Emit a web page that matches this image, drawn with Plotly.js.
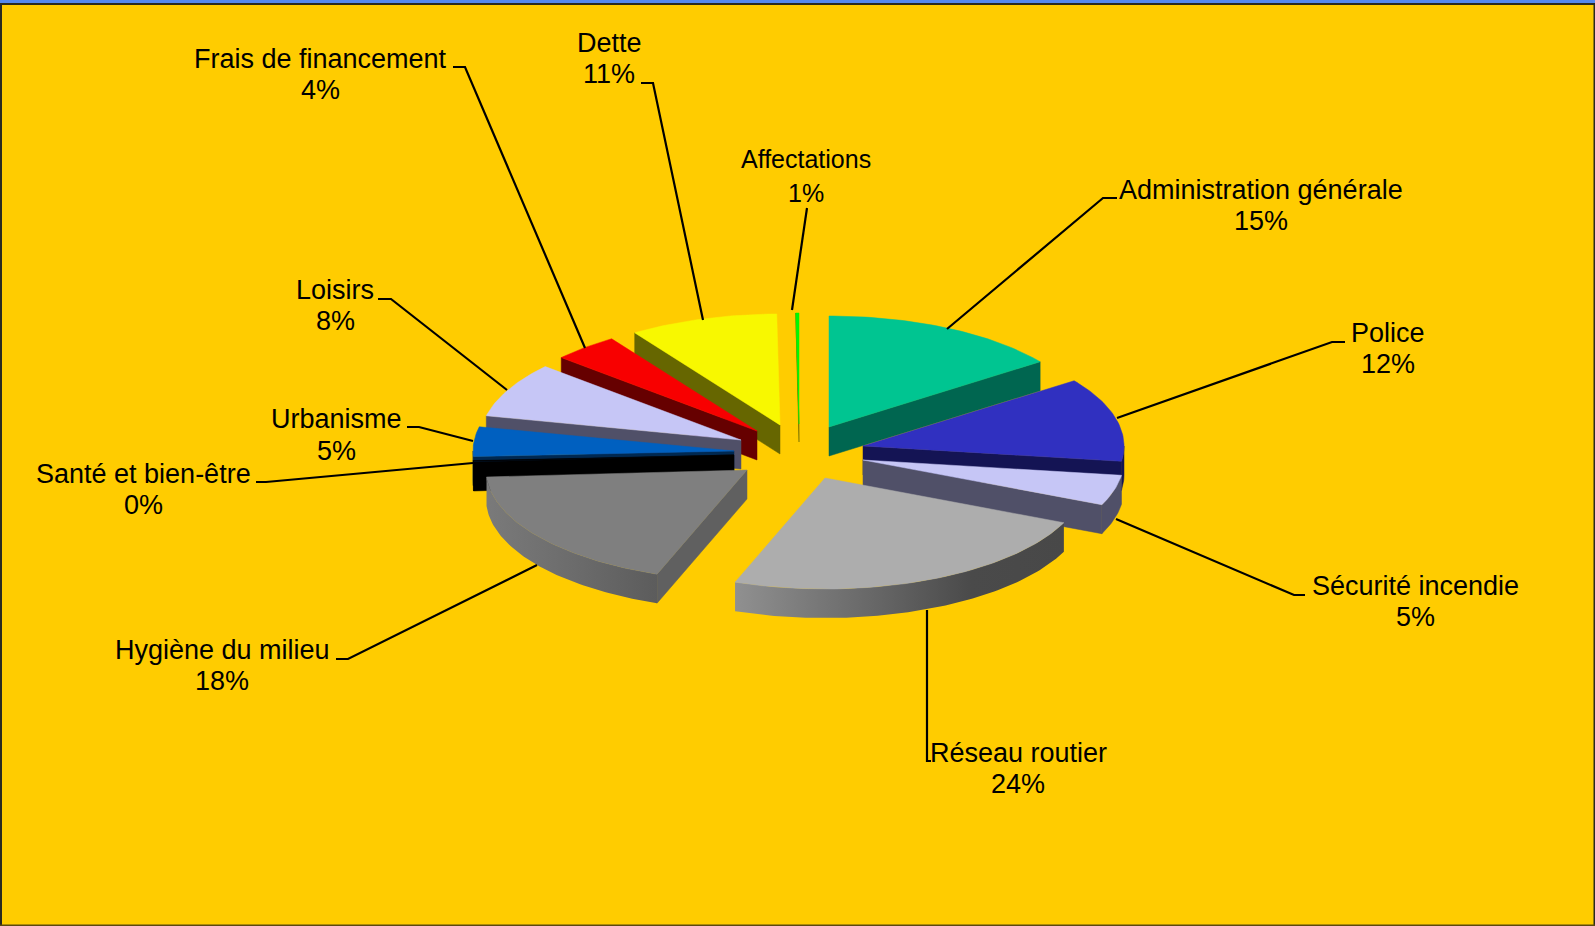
<!DOCTYPE html>
<html>
<head>
<meta charset="utf-8">
<script src="https://cdn.plot.ly/plotly-3.0.1.min.js"></script>
<style>html,body{margin:0;padding:0;background:#FFCC00;overflow:hidden}</style>
</head>
<body>
<div id="chart" style="width:1595px;height:926px"></div>
<script>
// ---- data ----
const categories = ["Administration générale","Police","Sécurité incendie","Réseau routier","Hygiène du milieu","Santé et bien-être","Urbanisme","Loisirs","Frais de financement","Dette","Affectations"];
const printedPercent = ["15%","12%","5%","24%","18%","0%","5%","8%","4%","11%","1%"];
const sliceShares = [15,12.2,4.4,24,18.4,0.2,4.3,8,4.1,9.2,0.2];

// ---- styles ----
const topColors  = ["#00C591","#3030C0","#C6C6F6","#ADADAD","#7F7F7F","#000000","#0060C0","#C6C6F6","#F80000","#F8F800","#00F800"];
const sideColors = ["#006650","#141454","#505068","#484848","#606060","#000000","#002850","#505068","#660000","#666600","#666600"];

// ---- layout geometry (the exploded position of each slice) ----
const apexX = [829,863,863,825,747,734,734,741,757,780,799];
const apexY = [427,446,460,478,470,455,451,440,431,425,424];
const radiusX = 261, radiusY = 111;
const sliceDepth = [29,29,29,29,29,29,29,29,29,29,18];
const paintOrder = [10,0,9,8,7,6,5,4,1,2,3];
const arcGradients = {
  3: [[0,"#909090"],[0.72,"#4A4A4A"],[1,"#484848"]],
  4: [[0,"#7A7A7A"],[0.5,"#6C6C6C"],[1,"#5C5C5C"]]
};
const labelX = [1261,1388,1415,1018,222,143,336,335,320,609,806];
const nameY  = [190,333,586,753,650,474,419,290,59,43,159];
const pctY   = [221,364,617,784,681,505,451,321,90,74,193];
const labelSize = [27,27,27,27,27,27,27,27,27,27,25];
const leaderX = [[1117,1103,947],[1345,1332,1117],[1305,1294,1116],[931,927,927],[336,348,537],[256,266,473],[407,419,473],[378,391,507],[453,465,585],[641,653,703],[807,792]];
const leaderY = [[198,198,329],[342,342,418],[595,595,519],[761,761,610],[659,659,565],[482,482,463],[427,427,441],[299,299,390],[67,67,348],[83,83,320],[208,310]];

const total = sliceShares.reduce((a,b)=>a+b,0);
let cum = 0;
const startDeg = [], endDeg = [];
sliceShares.forEach(v=>{ startDeg.push(cum/total*360); cum+=v; endDeg.push(cum/total*360); });

function rim(i,deg){
  const t = deg*Math.PI/180;
  return [apexX[i]+radiusX*Math.sin(t), apexY[i]-radiusY*Math.cos(t)];
}
function arcPts(i,a,b){
  const pts=[]; const n=Math.max(2,Math.ceil(Math.abs(b-a)));
  for(let k=0;k<=n;k++) pts.push(rim(i,a+(b-a)*k/n));
  return pts;
}
function poly(pts,color,extra){
  const tr = {type:"scatter",mode:"lines",x:pts.map(p=>p[0]).concat([pts[0][0]]),y:pts.map(p=>p[1]).concat([pts[0][1]]),
    fill:"toself",fillcolor:color,line:{color:color,width:0.5},hoverinfo:"skip",showlegend:false};
  return Object.assign(tr,extra||{});
}
// a cut face shows only if moving its edge downward leaves the top surface
function faceShows(i,P,M){
  const ex=P[0]-apexX[i], ey=P[1]-apexY[i], mx=M[0]-apexX[i], my=M[1]-apexY[i];
  return ex*(ex*my-ey*mx)<0;
}
const traces=[];
paintOrder.forEach(i=>{
  const a=startDeg[i], b=endDeg[i], ax=apexX[i], ay=apexY[i], d=sliceDepth[i];
  const A=rim(i,a), B=rim(i,b), M=rim(i,(a+b)/2);
  [A,B].forEach(P=>{
    if(faceShows(i,P,M)) traces.push(poly([[ax,ay],P,[P[0],P[1]+d],[ax,ay+d]],sideColors[i]));
  });
  const lo=Math.max(a,90), hi=Math.min(b,270);
  if(hi>lo){
    const up=arcPts(i,lo,hi), down=up.map(p=>[p[0],p[1]+d]).reverse();
    const extra={};
    if(arcGradients[i]){
      const xs=up.map(p=>p[0]);
      extra.fillgradient={type:"horizontal",colorscale:arcGradients[i],start:Math.min(...xs),stop:Math.max(...xs)};
      extra.line={color:"rgba(0,0,0,0)",width:0};
    }
    traces.push(poly(up.concat(down),sideColors[i],extra));
  }
  traces.push(poly([[ax,ay]].concat(arcPts(i,a,b)),topColors[i]));
});
// leader lines
categories.forEach((c,i)=>{
  traces.push({type:"scatter",mode:"lines",x:leaderX[i],y:leaderY[i],line:{color:"#000000",width:2.2},hoverinfo:"skip",showlegend:false});
});
const annotations=[];
categories.forEach((c,i)=>{
  [[c,nameY[i]],[printedPercent[i],pctY[i]]].forEach(([t,y])=>{
    annotations.push({x:labelX[i],y:y,xref:"x",yref:"y",text:t,showarrow:false,xanchor:"center",yanchor:"middle",
      font:{family:"Liberation Sans, Arial, sans-serif",size:labelSize[i],color:"#000000"}});
  });
});
const shapes=[
  {type:"rect",xref:"x",yref:"y",x0:0,x1:1595,y0:0,y1:3,fillcolor:"#5588EE",line:{width:0},layer:"above"},
  {type:"rect",xref:"x",yref:"y",x0:0,x1:1595,y0:3,y1:5,fillcolor:"#2A2A20",line:{width:0},layer:"above"},
  {type:"rect",xref:"x",yref:"y",x0:0,x1:2,y0:3,y1:926,fillcolor:"#2A2A20",line:{width:0},layer:"above"},
  {type:"rect",xref:"x",yref:"y",x0:1593.5,x1:1595,y0:3,y1:926,fillcolor:"#2A2A20",line:{width:0},layer:"above"},
  {type:"rect",xref:"x",yref:"y",x0:0,x1:1595,y0:924.5,y1:926,fillcolor:"#5A4A10",line:{width:0},layer:"above"}
];
Plotly.newPlot("chart",traces,{
  width:1595,height:926,autosize:false,margin:{l:0,r:0,t:0,b:0,pad:0},
  paper_bgcolor:"#FFCC00",plot_bgcolor:"#FFCC00",showlegend:false,
  xaxis:{range:[0,1595],visible:false,fixedrange:true},
  yaxis:{range:[926,0],visible:false,fixedrange:true},
  annotations:annotations,shapes:shapes
},{displayModeBar:false,staticPlot:true});
</script>
</body>
</html>
